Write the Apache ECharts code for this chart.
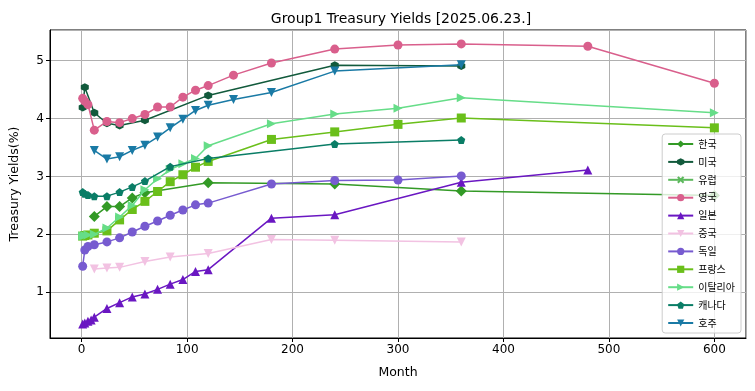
<!DOCTYPE html>
<html>
<head>
<meta charset="utf-8">
<script src="https://cdn.jsdelivr.net/npm/echarts@6/dist/echarts.min.js"></script>
<style>html,body{margin:0;padding:0;background:#fff}#c{width:755px;height:391px}</style>
</head>
<body>
<div id="c"></div>
<script>
// ---- data ----
const seriesNames = ['한국','미국','유럽','영국','일본','중국','독일','프랑스','이탈리아','캐나다','호주'];

const koreaMonths = [12,24,36,48,60,120,240,360,600];
const koreaYields = [2.31,2.48,2.48,2.63,2.72,2.89,2.87,2.75,2.67];

const usMonths = [1,3,12,24,36,60,120,240,360];
const usYields = [4.19,4.54,4.10,3.92,3.88,3.97,4.40,4.92,4.91];

const euMonths = [];
const euYields = [];

const ukMonths = [1,3,6,12,24,36,48,60,72,84,96,108,120,144,180,240,300,360,480,600];
const ukYields = [4.35,4.30,4.24,3.80,3.95,3.93,4.00,4.07,4.20,4.20,4.37,4.49,4.57,4.75,4.96,5.20,5.27,5.29,5.25,4.61];

const japanMonths = [1,3,6,9,12,24,36,48,60,72,84,96,108,120,180,240,360,480];
const japanYields = [0.45,0.47,0.50,0.52,0.57,0.72,0.82,0.92,0.97,1.05,1.14,1.22,1.36,1.39,2.28,2.34,2.90,3.11];

const chinaMonths = [12,24,36,60,84,120,180,240,360];
const chinaYields = [1.40,1.42,1.43,1.53,1.61,1.67,1.91,1.90,1.87];

const germanyMonths = [1,3,6,12,24,36,48,60,72,84,96,108,120,180,240,300,360];
const germanyYields = [1.45,1.73,1.79,1.82,1.87,1.94,2.04,2.14,2.23,2.33,2.42,2.51,2.54,2.87,2.93,2.94,3.01];

const franceMonths = [1,3,6,12,24,36,48,60,72,84,96,108,120,180,240,300,360,600];
const franceYields = [1.97,1.98,1.99,2.02,2.06,2.25,2.43,2.57,2.74,2.91,3.03,3.16,3.26,3.64,3.77,3.90,4.01,3.84];

const italyMonths = [1,3,6,12,24,36,48,60,72,84,96,108,120,180,240,300,360,600];
const italyYields = [1.97,1.98,1.99,2.00,2.11,2.30,2.50,2.77,2.96,3.12,3.22,3.31,3.53,3.91,4.08,4.18,4.36,4.10];

const canadaMonths = [1,3,6,12,24,36,48,60,84,120,240,360];
const canadaYields = [2.73,2.70,2.68,2.66,2.66,2.73,2.82,2.92,3.17,3.31,3.56,3.63];

const australiaMonths = [12,24,36,48,60,72,84,96,108,120,144,180,240,360];
const australiaYields = [3.45,3.30,3.34,3.45,3.54,3.68,3.84,3.99,4.14,4.23,4.33,4.45,4.82,4.93];

// ---- styles ----
const HEX = 'path://M0,-1 L0.866,-0.5 L0.866,0.5 L0,1 L-0.866,0.5 L-0.866,-0.5 Z';
const PENT = 'path://M0,-1 L0.951,-0.309 L0.588,0.809 L-0.588,0.809 L-0.951,-0.309 Z';
const XF = 'path://M-1,-0.6 L-0.6,-1 L0,-0.4 L0.6,-1 L1,-0.6 L0.4,0 L1,0.6 L0.6,1 L0,0.4 L-0.6,1 L-1,0.6 L-0.4,0 Z';

const defs = [
  {m: koreaMonths, y: koreaYields, color:'#339a26', symbol:'diamond', size:11, rot:0},
  {m: usMonths, y: usYields, color:'#125a3c', symbol:HEX, size:8, rot:0},
  {m: euMonths, y: euYields, color:'#5cb85c', symbol:XF, size:8, rot:0},
  {m: ukMonths, y: ukYields, color:'#d95f8c', symbol:'circle', size:9, rot:0},
  {m: japanMonths, y: japanYields, color:'#6a17c2', symbol:'triangle', size:9, rot:0},
  {m: chinaMonths, y: chinaYields, color:'#f2c2e2', symbol:'triangle', size:9, rot:180},
  {m: germanyMonths, y: germanyYields, color:'#775bd0', symbol:'circle', size:9, rot:0},
  {m: franceMonths, y: franceYields, color:'#6abf1a', symbol:'rect', size:9, rot:0},
  {m: italyMonths, y: italyYields, color:'#66dd88', symbol:'triangle', size:9, rot:-90},
  {m: canadaMonths, y: canadaYields, color:'#0a7d66', symbol:PENT, size:8, rot:0},
  {m: australiaMonths, y: australiaYields, color:'#1a7aa5', symbol:'triangle', size:9, rot:180}
];

const series = defs.map((d, i) => ({
  name: seriesNames[i],
  type: 'line',
  data: d.m.map((mm, k) => [mm, d.y[k]]),
  symbol: d.symbol,
  symbolSize: d.size,
  symbolRotate: d.rot,
  showAllSymbol: true,
  animation: false,
  lineStyle: {color: d.color, width: 1.5},
  itemStyle: {color: d.color},
  emphasis: {disabled: true},
  z: 2 + i * 0.01
}));

const chart = echarts.init(document.getElementById('c'));
chart.setOption({
  animation: false,
  textStyle: {fontFamily: 'DejaVu Sans'},
  title: {
    text: 'Group1 Treasury Yields [2025.06.23.]',
    left: 396, top: 7, textAlign: 'center',
    textStyle: {fontFamily: 'DejaVu Sans', fontSize: 14, fontWeight: 'normal', color: '#000'}
  },
  grid: {left: 46, right: 9, top: 30, bottom: 53, show: true, borderColor: '#000', borderWidth: 1, backgroundColor: 'transparent'},
  legend: {
    orient: 'vertical',
    right: 14, bottom: 58,
    itemWidth: 25, itemHeight: 9, itemGap: 7.9,
    backgroundColor: 'rgba(255,255,255,0.8)',
    borderColor: '#cccccc', borderWidth: 1, borderRadius: 3,
    padding: [5, 6, 5, 5],
    textStyle: {fontFamily: 'Noto Sans CJK KR', fontSize: 10, color: '#000'},
    data: seriesNames
  },
  xAxis: {
    type: 'value', min: -30, max: 630,
    name: 'Month', nameLocation: 'middle', nameGap: 28,
    nameTextStyle: {fontFamily: 'DejaVu Sans', fontSize: 12.5, color: '#000'},
    axisLine: {show: true, onZero: false, lineStyle: {color: '#000', width: 1}},
    axisTick: {show: true, length: 4, lineStyle: {color: '#000'}},
    axisLabel: {showMinLabel: false, showMaxLabel: false, fontFamily: 'DejaVu Sans', fontSize: 12, color: '#000', margin: 6},
    splitLine: {show: true, lineStyle: {color: '#b0b0b0', width: 1}}
  },
  yAxis: {
    type: 'value', min: 0.21, max: 5.53,
    name: 'Treasury Yields(%)', nameLocation: 'middle', nameGap: 29, nameRotate: 90,
    nameTextStyle: {fontFamily: 'DejaVu Sans', fontSize: 12.5, color: '#000'},
    axisLine: {show: true, onZero: false, lineStyle: {color: '#000', width: 1}},
    axisTick: {show: true, length: 4, lineStyle: {color: '#000'}},
    axisLabel: {showMinLabel: false, showMaxLabel: false, fontFamily: 'DejaVu Sans', fontSize: 12, color: '#000', margin: 6,
      formatter: v => (Math.abs(v - Math.round(v)) < 1e-9 ? String(Math.round(v)) : '')},
    splitLine: {show: true, lineStyle: {color: '#b0b0b0', width: 1}}
  },
  series: series
});
</script>
</body>
</html>
